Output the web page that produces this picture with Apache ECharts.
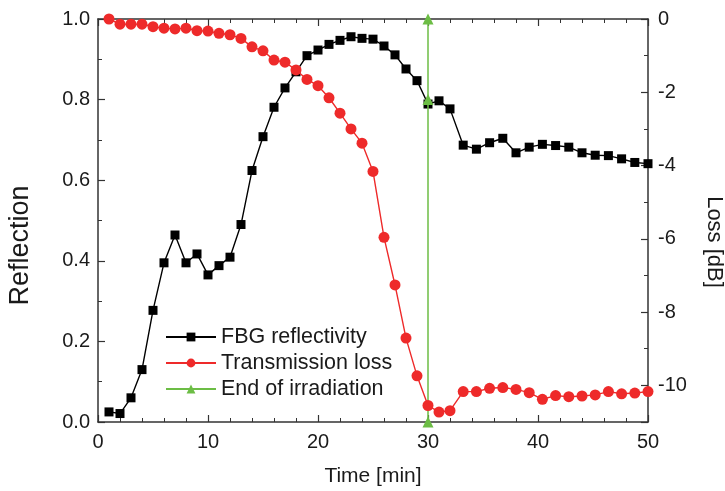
<!DOCTYPE html>
<html>
<head>
<meta charset="utf-8">
<script src="https://cdn.jsdelivr.net/npm/echarts@6/dist/echarts.min.js"></script>
<style>
html,body{margin:0;padding:0;background:#fff;}
#chart{width:725px;height:491px;}
</style>
</head>
<body>
<div id="chart"></div>
<script>
// Time [min]
var times = [1,2,3,4,5,6,7,8,9,10,11,12,13,14,15,16,17,18,19,20,21,22,23,24,25,26,27,28,29,30,31,32,
             33.2,34.4,35.6,36.8,38,39.2,40.4,41.6,42.8,44,45.2,46.4,47.6,48.8,50];
// FBG reflectivity (left axis)
var reflectivity = [0.025,0.021,0.06,0.13,0.277,0.395,0.464,0.395,0.417,0.365,0.388,0.409,0.49,0.624,0.708,0.781,
                    0.829,0.869,0.909,0.923,0.937,0.947,0.956,0.952,0.95,0.933,0.911,0.876,0.847,0.789,0.797,0.777,
                    0.687,0.677,0.693,0.704,0.668,0.682,0.689,0.686,0.682,0.668,0.662,0.661,0.653,0.644,0.641];
// Transmission loss [dB] (right axis)
var loss = [0.0,-0.14,-0.14,-0.14,-0.21,-0.25,-0.27,-0.25,-0.32,-0.33,-0.39,-0.43,-0.53,-0.76,-0.87,-1.12,
            -1.18,-1.39,-1.65,-1.82,-2.15,-2.57,-3.0,-3.39,-4.16,-5.96,-7.26,-8.71,-9.74,-10.55,-10.73,-10.69,
            -10.17,-10.17,-10.08,-10.06,-10.11,-10.2,-10.38,-10.28,-10.31,-10.29,-10.26,-10.17,-10.23,-10.21,-10.17];
// End of irradiation marker
var irrTime = [30,30,30];
var irrValue = [0,0.8,1.0];

var seriesNames = ['FBG reflectivity','Transmission loss','End of irradiation'];

function pairs(xs, ys){ return xs.map(function(x,i){ return [x, ys[i]]; }); }

var FONT = '"Liberation Sans", Arial, sans-serif';
var AX = '#333333';
var TXT = '#1a1a1a';

var chart = echarts.init(document.getElementById('chart'), null, {renderer:'canvas'});
chart.setOption({
  animation:false,
  backgroundColor:'#ffffff',
  textStyle:{fontFamily:FONT},
  grid:{left:98,right:77,top:19,bottom:69,containLabel:false,outerBoundsMode:'none'},
  legend:{
    orient:'vertical',
    left:165, top:326, padding:0,
    itemWidth:50, itemHeight:11, itemGap:4,
    textStyle:{fontSize:21.5,color:TXT,fontFamily:FONT},
    data:seriesNames
  },
  xAxis:[{
    type:'value', min:0, max:50, interval:10,
    name:'Time [min]', nameLocation:'middle', nameGap:44,
    nameTextStyle:{fontSize:21,color:TXT,fontFamily:FONT},
    axisLine:{show:true,onZero:false,lineStyle:{color:AX,width:1.5}},
    axisTick:{show:true,inside:true,length:7,lineStyle:{color:AX,width:1.2}},
    minorTick:{show:true,splitNumber:5,length:4,lineStyle:{color:AX,width:1}},
    axisLabel:{fontSize:20,color:TXT,margin:10,fontFamily:FONT},
    splitLine:{show:false}
  },{
    type:'value', min:0, max:50, interval:10, position:'top',
    axisLine:{show:true,onZero:false,lineStyle:{color:AX,width:1.5}},
    axisTick:{show:true,inside:true,length:7,lineStyle:{color:AX,width:1.2}},
    minorTick:{show:true,splitNumber:5,length:4,lineStyle:{color:AX,width:1}},
    axisLabel:{show:false},
    splitLine:{show:false}
  }],
  yAxis:[{
    type:'value', min:0, max:1, interval:0.2,
    name:'Reflection', nameLocation:'middle', nameGap:64, nameRotate:90,
    nameTextStyle:{fontSize:27,color:TXT,fontFamily:FONT,padding:[0,50,0,0]},
    axisLine:{show:true,onZero:false,lineStyle:{color:AX,width:1.5}},
    axisTick:{show:true,inside:true,length:7,lineStyle:{color:AX,width:1.2}},
    minorTick:{show:true,splitNumber:2,length:4,lineStyle:{color:AX,width:1}},
    axisLabel:{fontSize:20,color:TXT,margin:8,fontFamily:FONT,formatter:function(v){return v.toFixed(1);}},
    splitLine:{show:false}
  },{
    type:'value', min:-11, max:0, splitNumber:5, position:'right',
    name:'Loss [dB]', nameLocation:'middle', nameGap:55, nameRotate:-90,
    nameTextStyle:{fontSize:22,color:TXT,fontFamily:FONT,padding:[0,0,0,43]},
    axisLine:{show:true,onZero:false,lineStyle:{color:AX,width:1.5}},
    axisTick:{show:true,inside:true,length:7,lineStyle:{color:AX,width:1.2}},
    minorTick:{show:true,splitNumber:2,length:4,lineStyle:{color:AX,width:1}},
    axisLabel:{fontSize:20,color:TXT,margin:10,fontFamily:FONT,
      formatter:function(v){ return (Math.abs(v - (-11)) < 1e-9) ? '' : String(v); }},
    splitLine:{show:false}
  }],
  series:[{
    name:seriesNames[0], type:'line', xAxisIndex:0, yAxisIndex:0,
    data:pairs(times, reflectivity),
    symbol:'rect', symbolSize:9,
    itemStyle:{color:'#000000'},
    lineStyle:{color:'#000000',width:1.4},
    z:2
  },{
    name:seriesNames[2], type:'line', xAxisIndex:0, yAxisIndex:0,
    data:pairs(irrTime, irrValue),
    symbol:'triangle', symbolSize:11,
    itemStyle:{color:'#6cbd45'},
    lineStyle:{color:'#6cbd45',width:1.5},
    z:3
  },{
    name:seriesNames[1], type:'line', xAxisIndex:0, yAxisIndex:1,
    data:pairs(times, loss),
    symbol:'circle', symbolSize:11,
    itemStyle:{color:'#ee2a2a'},
    lineStyle:{color:'#ee2a2a',width:1.4},
    z:4
  }]
});
</script>
</body>
</html>
